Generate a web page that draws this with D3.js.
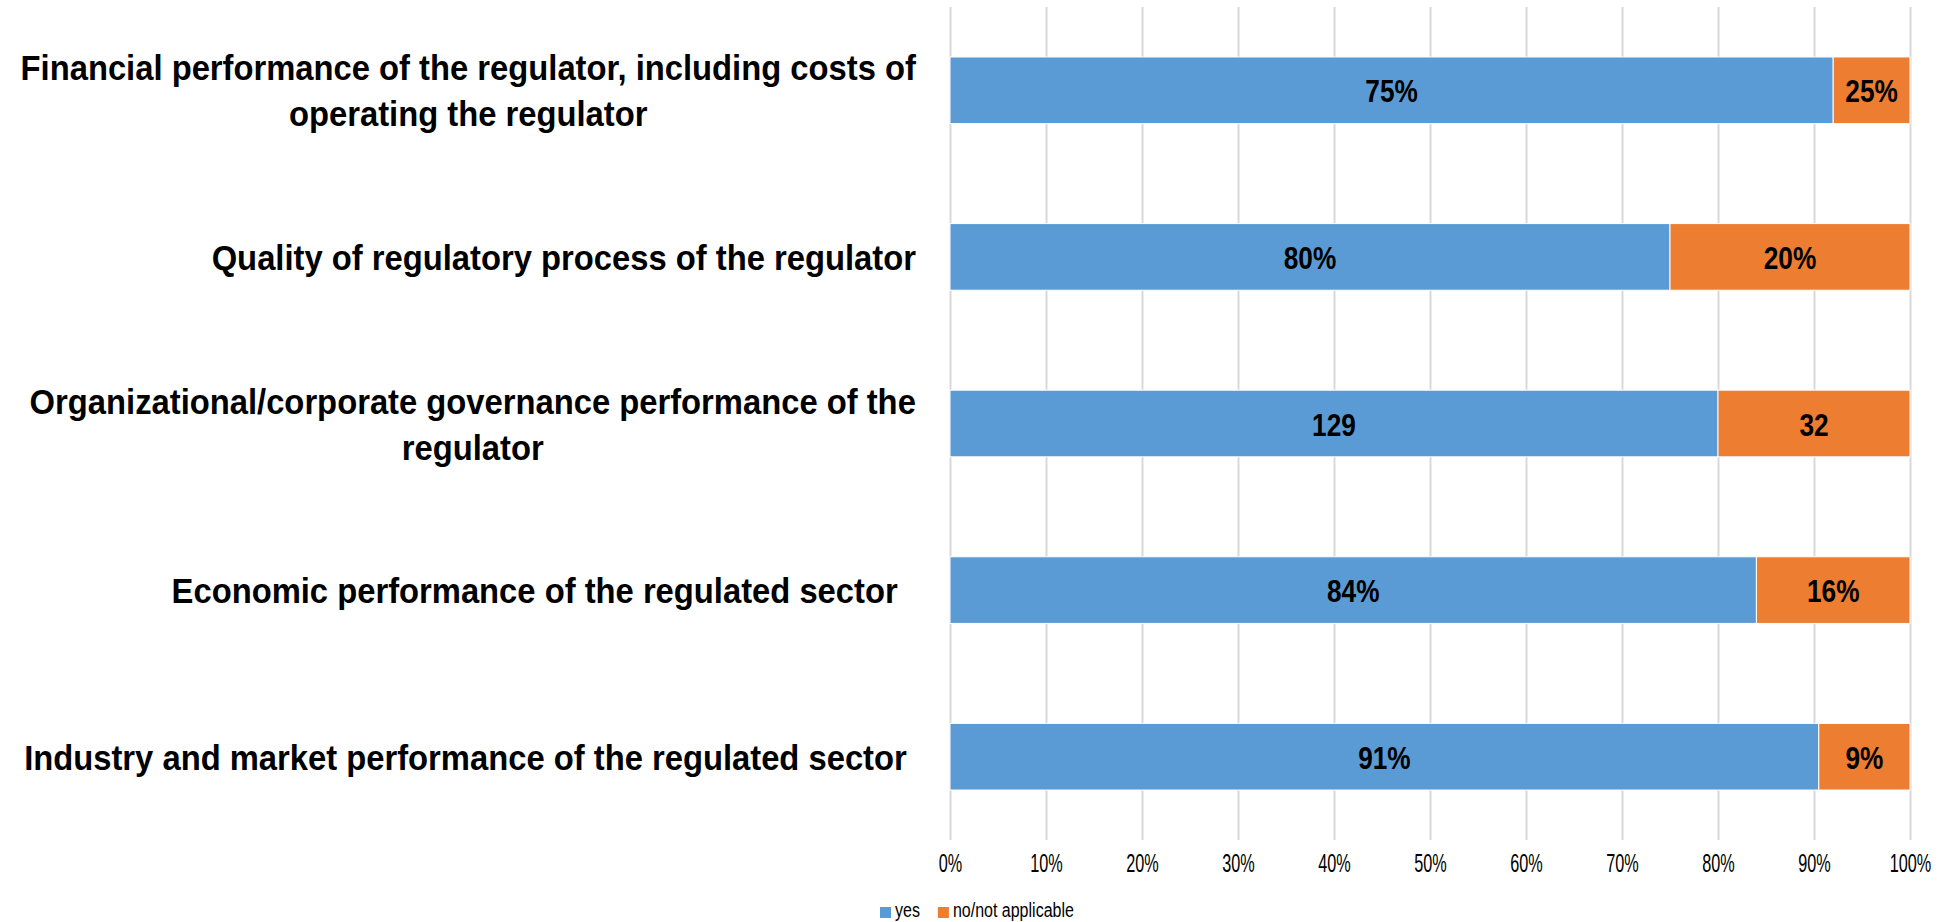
<!DOCTYPE html>
<html>
<head>
<meta charset="utf-8">
<style>
  body { margin: 0; background: #fff; }
  svg { display: block; font-family: "Liberation Sans", Arial, sans-serif; }
  .lbl { white-space: pre; }
</style>
</head>
<body>
<svg width="1938" height="922"></svg>
<script src="https://d3js.org/d3.v7.min.js"></script>
<script>

// categories, one entry per line of the wrapped label
var categories = [
  ["Financial performance of the regulator, including costs of", "operating the regulator"],
  ["Quality of regulatory process of the regulator"],
  ["Organizational/corporate governance performance of the", "regulator"],
  ["Economic performance of the regulated sector  "],
  ["Industry and market performance of the regulated sector "]
];
var seriesNames = ["yes", "no/not applicable"];
// shares as drawn in the bars
var yesShare = [0.92, 0.75, 0.80, 0.84, 0.905];
var noShare  = [0.08, 0.25, 0.20, 0.16, 0.095];
// data labels as printed on the chart
var yesLabels = ["75%", "80%", "129", "84%", "91%"];
var noLabels  = ["25%", "20%", "32", "16%", "9%"];
var tickValues = [0, 0.1, 0.2, 0.3, 0.4, 0.5, 0.6, 0.7, 0.8, 0.9, 1];

var colors = ["#5b9bd5", "#ed7d31"];

var svg = d3.select("svg"),
  margin = {top: 7, left: 950, right: 28, bottom: 82},
  width = +svg.attr("width") - margin.left - margin.right,
  height = +svg.attr("height") - margin.top - margin.bottom,
  g = svg.append("g").attr("transform", "translate(" + margin.left + "," + margin.top + ")");

var x = d3.scaleLinear().domain([0, 1]).range([0, width]);
var y = d3.scaleBand()
  .domain(d3.range(categories.length))
  .range([0, height])
  .paddingInner(0.6)
  .paddingOuter(0.3);

// gridlines + tick labels
var axis = g.append("g")
  .attr("transform", "translate(0," + height + ")")
  .call(d3.axisBottom(x).tickValues(tickValues).tickFormat(d3.format(".0%")).tickSize(-height).tickPadding(0));
axis.select(".domain").remove();
axis.selectAll(".tick line").attr("stroke", "#d9d9d9").attr("stroke-width", 2);
axis.selectAll(".tick text")
  .attr("y", 32).attr("dy", 0)
  .attr("fill", "#000")
  .style("font-size", "25px")
  .style("font-family", "'Liberation Sans', Arial, sans-serif")
  .attr("transform", "scale(0.65,1)");

// stacked bars
var rows = categories.map(function(c, i) {
  return [
    {i: i, x0: 0, x1: yesShare[i], label: yesLabels[i], s: 0},
    {i: i, x0: yesShare[i], x1: yesShare[i] + noShare[i], label: noLabels[i], s: 1}
  ];
});
var segs = [].concat.apply([], rows);

g.selectAll(".bar")
  .data(segs)
  .enter().append("rect")
  .attr("class", "bar")
  .attr("x", function(d) { return x(d.x0); })
  .attr("y", function(d) { return y(d.i); })
  .attr("width", function(d) { return x(d.x1) - x(d.x0); })
  .attr("height", y.bandwidth())
  .attr("fill", function(d) { return colors[d.s]; })
  .attr("stroke", "#fff")
  .attr("stroke-width", 1);

g.selectAll(".val")
  .data(segs)
  .enter().append("g")
  .attr("class", "val")
  .attr("transform", function(d) {
    return "translate(" + x((d.x0 + d.x1) / 2) + "," + (y(d.i) + y.bandwidth() / 2 + 12) + ") scale(0.82,1)";
  })
  .append("text")
  .attr("text-anchor", "middle")
  .style("font-size", "32px")
  .style("font-weight", "bold")
  .text(function(d) { return d.label; });

// category labels: block right-aligned, lines centred in the block
var labelRight = 916 - margin.left, lineH = 46, kCat = 0.91;
categories.forEach(function(lines, i) {
  var cy = y(i) + y.bandwidth() / 2;
  var tmp = lines.map(function(t) {
    var el = g.append("text").attr("class", "lbl").style("font-size", "36px").style("font-weight", "bold").text(t);
    var w = el.node().getComputedTextLength() * kCat;
    el.remove();
    return w;
  });
  var blockW = d3.max(tmp);
  var cx = labelRight - blockW / 2;
  lines.forEach(function(t, j) {
    var by = cy + (j - (lines.length - 1) / 2) * lineH + 13;
    g.append("g")
      .attr("transform", "translate(" + cx + "," + by + ") scale(" + kCat + ",1)")
      .append("text")
      .attr("class", "lbl")
      .attr("text-anchor", "middle")
      .style("font-size", "36px")
      .style("font-weight", "bold")
      .text(t);
  });
});

// legend
var legend = svg.append("g").attr("transform", "translate(880,907)");
var lx = 0;
seriesNames.forEach(function(name, i) {
  var item = legend.append("g").attr("transform", "translate(" + lx + ",0)");
  item.append("rect").attr("width", 11).attr("height", 11).attr("fill", colors[i]);
  var t = item.append("g").attr("transform", "translate(15,10) scale(0.8,1)")
    .append("text").style("font-size", "20px").text(name);
  lx += 15 + t.node().getComputedTextLength() * 0.8 + 18;
});

</script>
</body>
</html>
